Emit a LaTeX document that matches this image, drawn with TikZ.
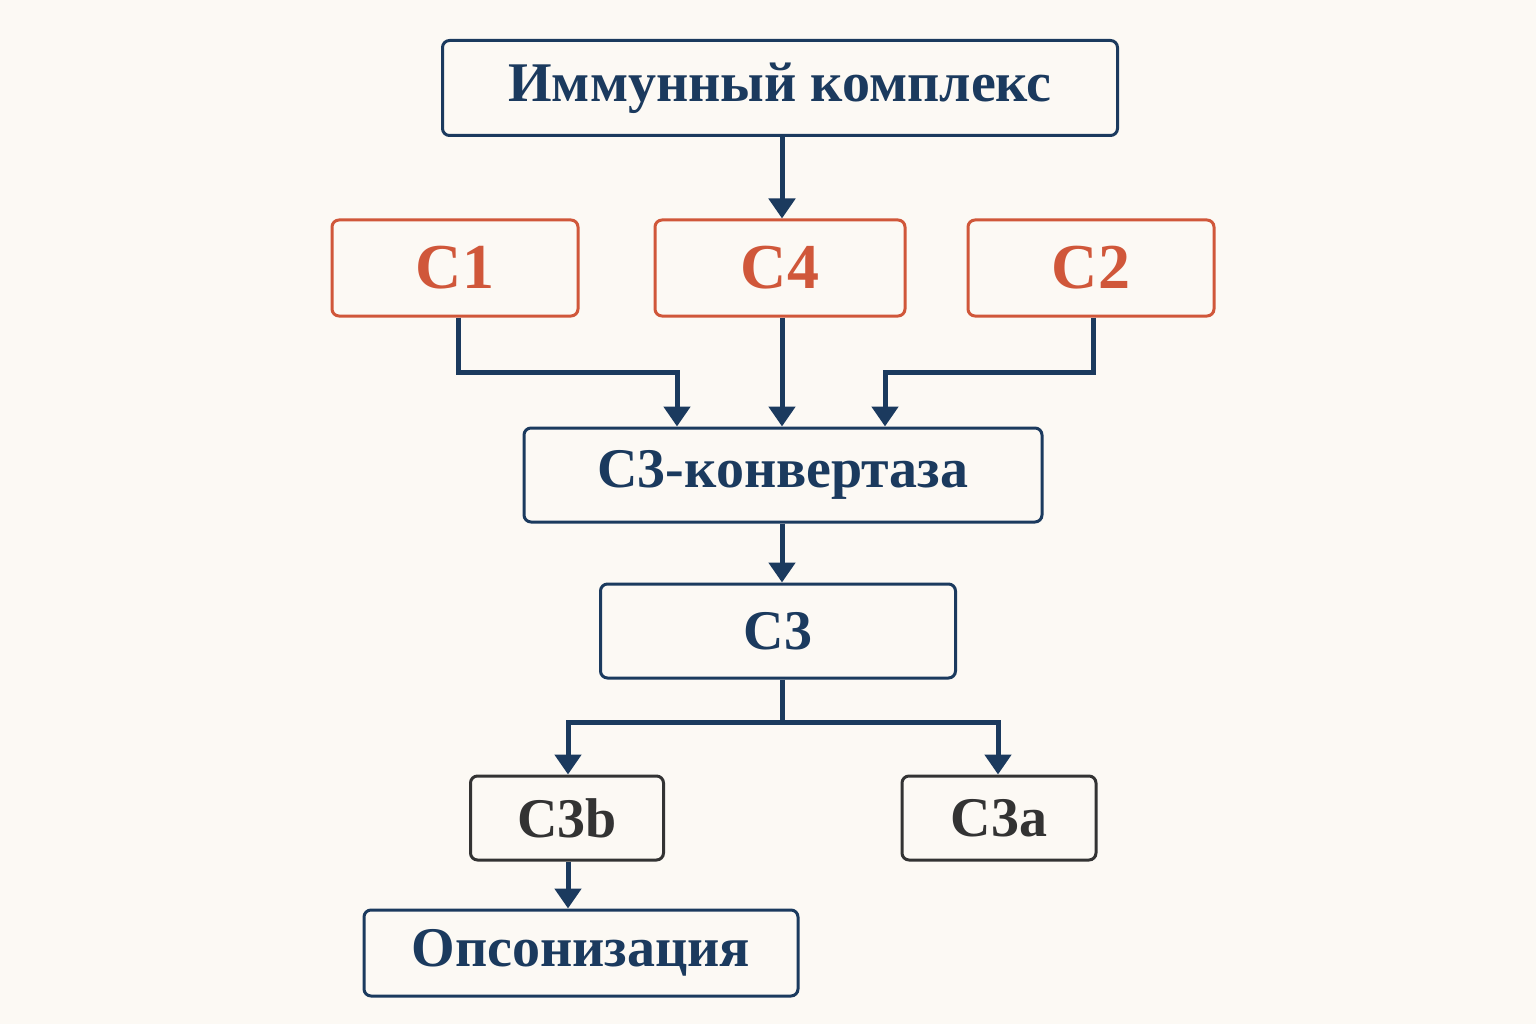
\documentclass[tikz,border=0pt]{standalone}
\usepackage{fontspec}
\setmainfont{Liberation Serif}
\usetikzlibrary{arrows.meta}
\definecolor{navy}{HTML}{1B3A5E}
\definecolor{rust}{HTML}{D0573A}
\definecolor{dgray}{HTML}{333333}
\definecolor{bg}{HTML}{FCF9F4}
\begin{document}
\begin{tikzpicture}[x=1pt,y=-1pt,
  box/.style={draw=navy,line width=3pt,rounded corners=7pt,fill=bg,text=navy,font=\fontsize{56}{64}\selectfont\bfseries,inner sep=0pt},
  rbox/.style={box,draw=rust,text=rust,font=\fontsize{64}{72}\selectfont\bfseries},
  gbox/.style={box,draw=dgray,text=dgray,font=\fontsize{56}{64}\selectfont\bfseries},
  arr/.style={draw=navy,line width=5pt,-{Triangle[length=20pt,width=26pt]}}]
\fill[bg] (0,0) rectangle (1536,1024);
\useasboundingbox (0,0) rectangle (1536,1024);
\node[box,minimum width=675pt,minimum height=95pt] (ik) at (780,88) {Иммунный комплекс};
\node[rbox,minimum width=246pt,minimum height=96pt] (c1) at (455,268) {C1};
\node[rbox,minimum width=250pt,minimum height=96pt] (c4) at (780,268) {C4};
\node[rbox,minimum width=246pt,minimum height=96pt] (c2) at (1091,268) {C2};
\node[box,minimum width=518pt,minimum height=94pt] (cv) at (783,475) {C3-конвертаза};
\node[box,minimum width=355pt,minimum height=94pt] (c3) at (778,631) {C3};
\node[gbox,minimum width=193pt,minimum height=84pt] (c3b) at (567,818) {C3b};
\node[gbox,minimum width=194pt,minimum height=84pt] (c3a) at (999,818) {C3a};
\node[box,minimum width=434pt,minimum height=86pt] (op) at (581,953) {Опсонизация};
\coordinate (j) at (782,722);
\draw[arr] (ik.south -| 782,0) -- (c4.north -| 782,0);
\draw[arr] (c1.south -| 458,0) -- (458,372) -- (677,372) -- (cv.north -| 677,0);
\draw[arr] (c4.south -| 782,0) -- (cv.north -| 782,0);
\draw[arr] (c2.south -| 1093,0) -- (1093,372) -- (885,372) -- (cv.north -| 885,0);
\draw[arr] (cv.south -| 782,0) -- (c3.north -| 782,0);
\draw[draw=navy,line width=5pt] (c3.south -| 782,0) -- (j);
\draw[arr] (j) -- (568,722) -- (c3b.north -| 568,0);
\draw[arr] (j) -- (998,722) -- (c3a.north -| 998,0);
\draw[arr] (c3b.south -| 568,0) -- (op.north -| 568,0);
\end{tikzpicture}
\end{document}
